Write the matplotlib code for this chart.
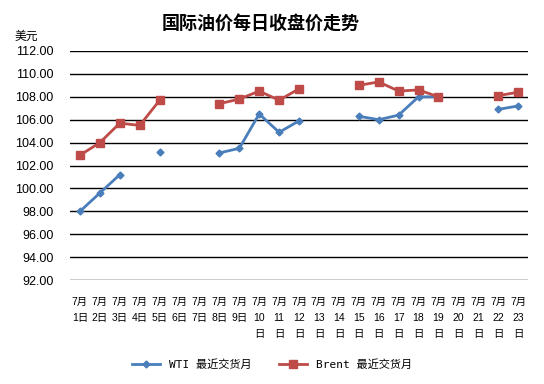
import numpy as np
import matplotlib
matplotlib.use("Agg")
import matplotlib.pyplot as plt

plt.rcParams['font.family'] = ['Liberation Sans', 'Noto Sans CJK SC']

# data (NaN = no quote that day)
days = list(range(1, 24))
wti = [98.0, 99.6, 101.2, np.nan, 103.2, np.nan, np.nan, 103.1, 103.5, 106.5,
       104.9, 105.9, np.nan, np.nan, 106.3, 106.0, 106.4, 108.0, 108.0, np.nan,
       np.nan, 106.9, 107.2]
brent = [102.9, 104.0, 105.7, 105.5, 107.7, np.nan, np.nan, 107.4, 107.8, 108.5,
         107.7, 108.7, np.nan, np.nan, 109.0, 109.3, 108.5, 108.6, 108.0, np.nan,
         np.nan, 108.1, 108.4]
yticks = np.arange(92, 112.1, 2)
xlabels = ["7月\n%d日" % d if d < 10 else "7月\n%d\n日" % d for d in days]

fig = plt.figure(figsize=(5.44, 3.84), dpi=100)
ax = fig.add_axes([0.1287, 0.2708, 0.842, 0.5964])

x = np.arange(len(days))
ax.plot(x, wti, color='#4A7EBB', lw=2, marker='D', ms=3.5, label='WTI 最近交货月')
ax.plot(x, brent, color='#BE4B48', lw=2, marker='s', ms=5.5, label='Brent 最近交货月')

ax.set_xlim(-0.5, len(days) - 0.5)
ax.set_ylim(92, 112)
ax.set_yticks(yticks)
ax.set_yticklabels(["%.2f" % v for v in yticks], fontsize=9)
ax.yaxis.grid(True, color='black', lw=1)
ax.set_axisbelow(True)
for s in ax.spines.values():
    s.set_visible(False)
ax.tick_params(axis='both', length=0)
ax.tick_params(axis='y', pad=12)
ax.set_xticks(x)
ax.set_xticklabels(xlabels, fontsize=7.5, linespacing=1.75, va='top')
ax.tick_params(axis='x', pad=12)

fig.text(0.48, 0.94, "国际油价每日收盘价走势", ha='center', va='center',
         fontsize=13, fontweight='bold', family=['Noto Sans CJK SC'])
fig.text(0.026, 0.905, "美元", ha='left', va='center', fontsize=8.5,
         family=['Noto Sans CJK SC'])

fig.legend(loc='center', bbox_to_anchor=(0.5, 0.05), ncol=2, frameon=False,
           prop={'family': ['DejaVu Sans Mono', 'Noto Sans CJK SC'], 'size': 8},
           handlelength=2.5, columnspacing=2.5)

fig.savefig("out.png", dpi=100)
